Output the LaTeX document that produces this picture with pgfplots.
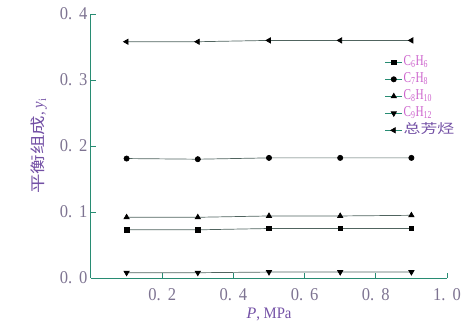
\documentclass[border=0pt]{standalone}
\usepackage{pgfplots}
\pgfplotsset{compat=1.18}
\usepackage{fontspec}
\setmainfont{Liberation Serif}
\newfontfamily\narrow[FakeStretch=0.92]{Liberation Serif}
\newfontfamily\leg[FakeStretch=0.75]{Liberation Serif}
\newfontfamily\cjk{Noto Sans CJK SC}
\newfontfamily\cjkwide[FakeStretch=1.3]{Noto Sans CJK SC}
\definecolor{axc}{RGB}{40,140,115}
\definecolor{linec}{RGB}{80,100,95}
\definecolor{tickc}{RGB}{125,115,145}
\definecolor{labc}{RGB}{115,80,165}
\definecolor{legc}{RGB}{205,100,205}
\newcommand{\tl}[2]{#1.\hspace{7pt}#2}
\begin{document}
\begin{tikzpicture}
\begin{axis}[
  scale only axis,
  width=356pt, height=264pt,
  xmin=0, xmax=1.0, ymin=0, ymax=0.4,
  axis lines=left,
  axis line style={axc, line width=1pt, -},
  xtick={0.2,0.4,0.6,0.8,1.0},
  ytick={0,0.1,0.2,0.3,0.4},
  xticklabels={\tl02,\tl04,\tl06,\tl08,\tl10},
  yticklabels={\tl00,\tl01,\tl02,\tl03,\tl04},
  tick style={axc, line width=0.8pt},
  tick align=inside,
  major tick length=5pt,
  ticklabel style={tickc, font=\narrow\fontsize{18}{20}\selectfont},
  xticklabel style={yshift=-7pt},
  xlabel={\textit{P}\narrow, MPa},
  ylabel={{\cjkwide\fontsize{15}{17}\selectfont 平衡组成}\narrow, \textit{y}\textsubscript{i}},
  label style={labc, font=\fontsize{16}{18}\selectfont},
  xlabel style={yshift=0pt},
  ylabel style={yshift=6pt},
  legend style={at={(0.825,0.85)}, anchor=north west, draw=none, fill=none,
    font=\leg\fontsize{15}{15}\selectfont, text=legc, row sep=0pt,
    inner sep=0pt, nodes={inner sep=1pt, text height=11pt, text depth=4pt}},
  legend cell align=left,
  legend image post style={axc},
  every axis plot/.append style={linec, line width=0.7pt, mark size=2.6pt},
  clip=false,
]
\addplot[mark=square*, mark size=2.3pt, mark options={black, fill=black, solid}] coordinates {(0.1,0.073) (0.3,0.073) (0.5,0.075) (0.7,0.075) (0.9,0.075)};
\addlegendentry{C\textsubscript{6}H\textsubscript{6}}
\addplot[mark=*, mark options={black, fill=black, solid}] coordinates {(0.1,0.181) (0.3,0.180) (0.5,0.182) (0.7,0.182) (0.9,0.182)};
\addlegendentry{C\textsubscript{7}H\textsubscript{8}}
\addplot[mark=triangle*, mark size=3pt, mark options={black, fill=black, solid}] coordinates {(0.1,0.092) (0.3,0.092) (0.5,0.094) (0.7,0.094) (0.9,0.095)};
\addlegendentry{C\textsubscript{8}H\textsubscript{10}}
\addplot[mark=triangle*, mark size=3pt, mark options={black, fill=black, solid, rotate=180}] coordinates {(0.1,0.008) (0.3,0.008) (0.5,0.009) (0.7,0.009) (0.9,0.009)};
\addlegendentry{C\textsubscript{9}H\textsubscript{12}}
\addplot[mark=triangle*, mark size=3pt, mark options={black, fill=black, solid, rotate=90}] coordinates {(0.1,0.358) (0.3,0.358) (0.5,0.360) (0.7,0.360) (0.9,0.360)};
\addlegendentry{\textcolor{labc}{\cjkwide\fontsize{13}{13}\selectfont 总芳烃}}
\end{axis}
\path (-91pt,-55pt) rectangle (377pt,278pt);
\end{tikzpicture}
\end{document}
